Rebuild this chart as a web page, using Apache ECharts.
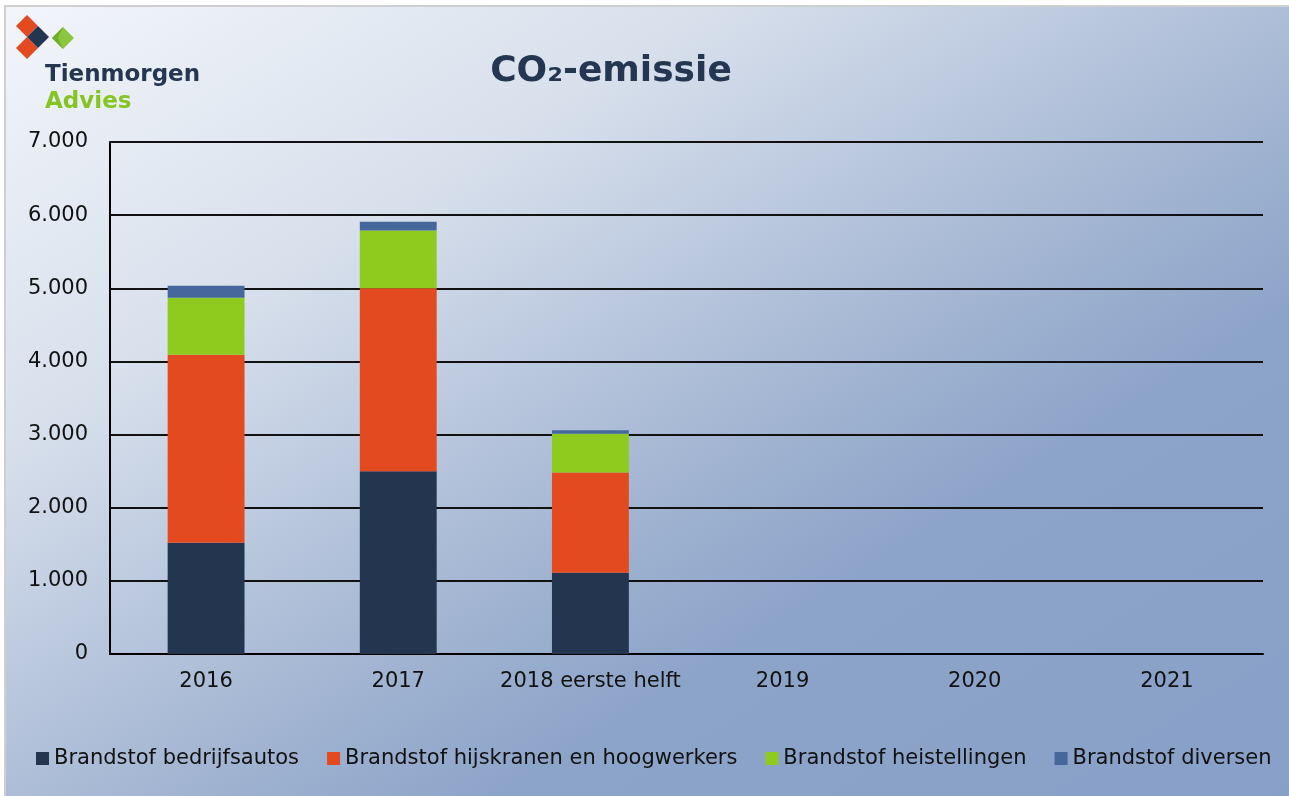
<!DOCTYPE html>
<html>
<head>
<meta charset="utf-8">
<script src="https://cdn.jsdelivr.net/npm/echarts@6/dist/echarts.min.js"></script>
<style>
  html, body { margin: 0; padding: 0; background: #fff; }
  #chart { width: 1289px; height: 796px; }
</style>
</head>
<body>
<div id="chart"></div>
<script>
// categorieen en waarden (ton CO2)
const jaren = ['2016', '2017', '2018 eerste helft', '2019', '2020', '2021']
const bedrijfsautos = [1520, 2500, 1110, null, null, null]
const hijskranen = [2570, 2500, 1370, null, null, null]
const heistellingen = [780, 790, 530, null, null, null]
const diversen = [165, 120, 50, null, null, null]
const yTicks = [0, 1000, 2000, 3000, 4000, 5000, 6000, 7000]

const reeksen = [
  { name: 'Brandstof bedrijfsautos', data: bedrijfsautos, color: '#243550' },
  { name: 'Brandstof hijskranen en hoogwerkers', data: hijskranen, color: '#e34a20' },
  { name: 'Brandstof heistellingen', data: heistellingen, color: '#8fca1e' },
  { name: 'Brandstof diversen', data: diversen, color: '#46679c' }
]

const font = 'DejaVu Sans, Verdana, sans-serif'

// 7000 -> 7.000
function punt(v) {
  if (v === 0) return '0'
  return Math.floor(v / 1000) + '.' + String(v % 1000).padStart(3, '0')
}

// logo ruitjes
function ruit(cx, cy, r, kleur, z) {
  return {
    type: 'polygon',
    z: z,
    shape: { points: [[cx, cy - r], [cx + r, cy], [cx, cy + r], [cx - r, cy]] },
    style: { fill: kleur }
  }
}

const chart = echarts.init(document.getElementById('chart'))
chart.setOption({
  animation: false,
  textStyle: { fontFamily: font },
  graphic: [
    {
      type: 'rect',
      z: -10,
      shape: { x: 5, y: 6, width: 1290, height: 800 },
      style: {
        stroke: '#cfcfcf',
        lineWidth: 2,
        // diagonaal verloop, lichter linksboven
        fill: new echarts.graphic.LinearGradient(0, 0, 790, 1289, [
          { offset: 0, color: '#f3f6fb' },
          { offset: 0.25, color: '#d8e0ec' },
          { offset: 0.42, color: '#b4c3db' },
          { offset: 0.52, color: '#9fb2d0' },
          { offset: 0.62, color: '#8da4c9' },
          { offset: 1, color: '#869fc7' }
        ], true)
      }
    },
    ruit(27, 26, 11, '#e34a20', 1),
    ruit(27, 48, 11, '#e34a20', 1),
    ruit(38, 37, 11, '#243550', 2),
    ruit(63, 38, 11, '#8cc63f', 1),
    {
      type: 'polygon',
      z: 3,
      shape: { points: [[63, 27], [52, 38], [63, 49], [58, 38]] },
      style: { fill: '#6fae2a' }
    },
    {
      type: 'text',
      left: 45,
      top: 64,
      style: { text: 'Tienmorgen', font: 'bold 23px ' + font, fill: '#243650' }
    },
    {
      type: 'text',
      left: 45,
      top: 91,
      style: { text: 'Advies', font: 'bold 23px ' + font, fill: '#86c424' }
    }
  ],
  title: {
    text: 'CO₂-emissie',
    left: 606,
    textAlign: 'center',
    top: 49,
    textStyle: { fontSize: 36, fontWeight: 'bold', color: '#243650', fontFamily: font }
  },
  legend: {
    left: 36,
    top: 748,
    padding: 0,
    itemWidth: 13,
    itemHeight: 13,
    itemGap: 28,
    icon: 'rect',
    textStyle: { fontSize: 21, color: '#111', fontFamily: font }
  },
  grid: {
    left: 110,
    right: 26,
    top: 142,
    bottom: 142,
    containLabel: false
  },
  xAxis: {
    type: 'category',
    data: jaren,
    axisTick: { show: false },
    axisLine: { lineStyle: { color: '#000', width: 2 } },
    axisLabel: { color: '#111', fontSize: 21, margin: 17, interval: 0 }
  },
  yAxis: {
    type: 'value',
    min: yTicks[0],
    max: yTicks[yTicks.length - 1],
    interval: 1000,
    axisLine: { show: true, lineStyle: { color: '#000', width: 2 } },
    axisTick: { show: false },
    axisLabel: { color: '#111', fontSize: 21, margin: 22, formatter: punt },
    splitLine: { lineStyle: { color: '#111', width: 2 } }
  },
  series: reeksen.map(r => ({
    name: r.name,
    type: 'bar',
    stack: 'totaal',
    barWidth: '40%',
    data: r.data,
    itemStyle: { color: r.color }
  }))
})
</script>
</body>
</html>
